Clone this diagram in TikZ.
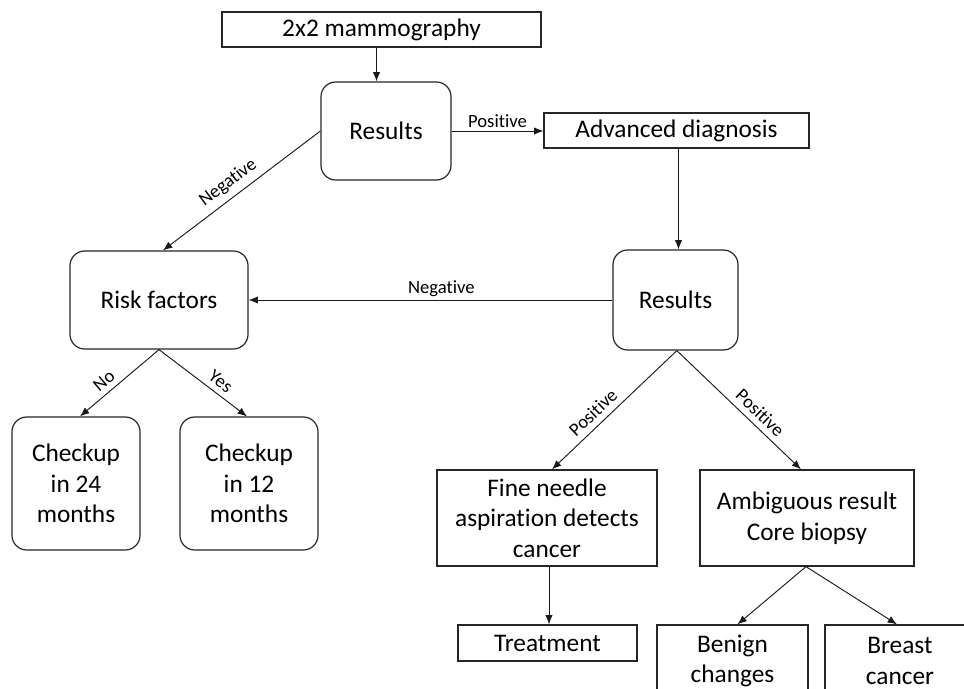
\documentclass[tikz,border=0pt]{standalone}
\usepackage{fontspec}
\setmainfont{Carlito}[Ligatures=NoCommon]
\usetikzlibrary{arrows.meta}
\begin{document}
\begin{tikzpicture}[x=0.75pt,y=-0.75pt,
  box/.style={draw=black!85, line width=0.9pt, align=center, inner sep=0pt, font=\fontsize{19}{23}\selectfont},
  rbox/.style={box, rounded corners=11pt},
  conn/.style={draw=black!90, line width=0.7pt, -{Latex[length=7pt,width=5.5pt]}},
  lab/.style={font=\fontsize{14}{16}\selectfont, inner sep=2pt}]
\useasboundingbox (0,0) rectangle (964,689);
\clip (0,0) rectangle (964,689);

\node[box, minimum width=239.25pt, minimum height=26.25pt] (mammo) at (381.5,29.5) {2x2 mammography};
\node[rbox, minimum width=97.5pt, minimum height=73.5pt] (res1) at (386,131) {Results};
\node[box, minimum width=198.75pt, minimum height=26.25pt] (adv) at (676.5,130.5) {Advanced diagnosis};
\node[rbox, minimum width=93.75pt, minimum height=75pt] (res2) at (675.5,300) {Results};
\node[rbox, minimum width=133.5pt, minimum height=73.5pt] (risk) at (159,300) {Risk factors};
\node[rbox, minimum width=96pt, minimum height=99.75pt] (chk24) at (76,483.5) {Checkup\\in 24\\months};
\node[rbox, minimum width=103.5pt, minimum height=99.75pt] (chk12) at (249,483.5) {Checkup\\in 12\\months};
\node[box, minimum width=165pt, minimum height=72pt] (fna) at (547,518) {Fine needle\\aspiration detects\\cancer};
\node[box, minimum width=160.5pt, minimum height=72pt] (amb) at (807,518) {Ambiguous result\\Core biopsy};
\node[box, minimum width=134.25pt, minimum height=27pt] (treat) at (547.5,643) {Treatment};
\node[box, minimum width=113.25pt, minimum height=54pt] (benign) at (732.5,661) {Benign\\changes};
\node[box, minimum width=112.5pt, minimum height=54pt] (breast) at (900,661) {Breast\\cancer};

\draw[conn] ([xshift=-3.75pt]mammo.south) -- ([xshift=-3.75pt]mammo.south |- res1.north);
\draw[conn] (res1.east) -- (res1.east -| adv.west) node[lab, midway, above] {Positive};
\draw[conn] ([xshift=1.5pt]adv.south) -- ([xshift=1.5pt]adv.south |- res2.north);
\draw[conn] (res2.west) -- (risk.east) node[lab, pos=0.47, above] {Negative};
\draw[conn] (res1.west) -- ([xshift=3pt]risk.north) node[lab, pos=0.53, above=2.5pt, sloped] {Negative};
\draw[conn] (risk.south) -- ([xshift=3pt]chk24.north) node[lab, pos=0.6, above=2pt, sloped] {No};
\draw[conn] (risk.south) -- ([xshift=-1.5pt]chk12.north) node[lab, pos=0.62, above=2pt, sloped] {Yes};
\draw[conn] ([xshift=1pt]res2.south) -- ([xshift=3.75pt]fna.north) node[lab, pos=0.6, above=2.5pt, sloped] {Positive};
\draw[conn] ([xshift=1pt]res2.south) -- ([xshift=-4.5pt]amb.north) node[lab, pos=0.6, above=2.5pt, sloped] {Positive};
\draw[conn] ([xshift=1.5pt]fna.south) -- ([xshift=1.5pt]fna.south |- treat.north);
\draw[conn] ([xshift=-0.75pt]amb.south) -- ([xshift=3.75pt]benign.north);
\draw[conn] ([xshift=-0.75pt]amb.south) -- ([xshift=-2.25pt]breast.north);
\end{tikzpicture}
\end{document}
